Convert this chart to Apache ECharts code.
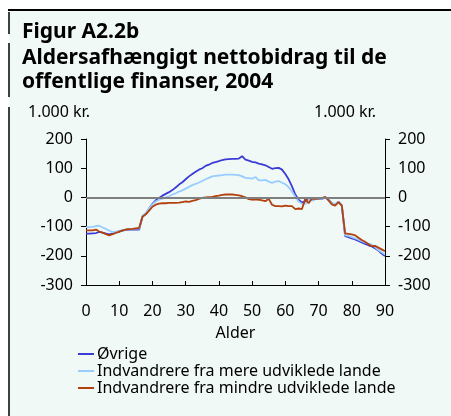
<!DOCTYPE html>
<html>
<head>
<meta charset="utf-8">
<script src="https://cdn.jsdelivr.net/npm/echarts@6/dist/echarts.min.js"></script>
<style>
  html, body { margin: 0; padding: 0; background: #fff; }
  #chart { width: 451px; height: 416px; }
</style>
</head>
<body>
<div id="chart"></div>
<script>
// alder 0..90
const ages = Array.from({ length: 91 }, (_, i) => i);

const ovrige = [
  -124, -124, -123, -122, -118, -121, -124, -127, -124, -120,
  -117, -114, -111, -110, -110, -110, -110, -66, -56, -38,
  -22, -10, -2, 6, 12, 18, 25, 34, 44, 52,
  62, 72, 80, 88, 95, 100, 108, 112, 118, 121,
  124, 128, 130, 131, 132, 132, 133, 141, 129, 126,
  122, 120, 116, 113, 110, 104, 98, 100, 101, 95,
  80, 62, 38, 10, -8, -17, -14, -3, -10, -5,
  -4, -5, 0, -8, -20, -24, -15, -28, -133, -136,
  -140, -144, -149, -154, -159, -164, -168, -174, -182, -192,
  -201
];

const mereUdviklede = [
  -102, -102, -101, -98, -97, -103, -108, -114, -119, -117,
  -115, -112, -110, -108, -108, -107, -107, -62, -54, -38,
  -24, -14, -8, -4, 0, 4, 10, 14, 20, 24,
  30, 36, 42, 46, 51, 56, 62, 67, 72, 74,
  75, 76, 78, 78, 78, 77, 76, 72, 67, 66,
  64, 70, 58, 58, 60, 54, 50, 54, 56, 50,
  45, 35, 20, 2, -14, -22, -22, -8, -10, -5,
  -5, -4, -1, -8, -20, -23, -15, -26, -130, -132,
  -136, -140, -145, -150, -154, -158, -162, -170, -180, -188,
  -196
];

const mindreUdviklede = [
  -113, -113, -113, -110, -117, -121, -126, -130, -126, -122,
  -117, -113, -110, -109, -108, -106, -104, -66, -58, -45,
  -32, -25, -21, -20, -20, -19, -19, -19, -18, -16,
  -14, -15, -12, -9, -5, -2, 0, 1, 2, 4,
  6, 9, 10, 10, 10, 9, 7, 4, 0, -6,
  -8, -7, -8, -10, -13, -5, -25, -30, -30, -31,
  -28, -30, -30, -40, -38, -40, -5, -20, -4, -5,
  -4, -2, 2, -10, -24, -28, -16, -28, -123, -125,
  -127, -130, -138, -146, -152, -160, -167, -166, -172, -178,
  -184
];

const pair = arr => arr.map((v, i) => [ages[i], v]);

const font = '"Noto Sans", sans-serif';
const chart = echarts.init(document.getElementById('chart'));

const yAxisBase = {
  type: 'value',
  min: -300,
  max: 200,
  interval: 100,
  axisLine: { show: true, lineStyle: { color: '#000', width: 1 } },
  axisTick: { show: true, length: 5, lineStyle: { color: '#000' } },
  axisLabel: { color: '#000', fontSize: 16, fontFamily: font, margin: 13 },
  splitLine: { show: false },
};

chart.setOption({
  animation: false,
  textStyle: { fontFamily: font },
  graphic: [
    { type: 'rect', z: -10, shape: { x: 9, y: 10, width: 442, height: 406 }, style: { fill: '#f1f9f6' } },
    { type: 'line', shape: { x1: 8, y1: 10, x2: 451, y2: 10 }, style: { stroke: '#000', lineWidth: 2 } },
    { type: 'line', shape: { x1: 9, y1: 12, x2: 9, y2: 34 }, style: { stroke: '#000', lineWidth: 1.5 } },
    { type: 'line', shape: { x1: 9, y1: 43, x2: 9, y2: 97 }, style: { stroke: '#000', lineWidth: 1.5 } },
    { type: 'line', shape: { x1: 9, y1: 107, x2: 9, y2: 416 }, style: { stroke: '#000', lineWidth: 1.5 } },
    { type: 'text', left: 28, top: 104, style: { text: '1.000 kr.', fontSize: 16, fontFamily: font, fill: '#000' } },
    { type: 'text', left: 314, top: 104, style: { text: '1.000 kr.', fontSize: 16, fontFamily: font, fill: '#000' } },
  ],
  title: [
    {
      text: 'Figur A2.2b',
      left: 17,
      top: 17,
      textStyle: { fontSize: 21, fontWeight: 'bold', fontFamily: font, color: '#000' },
    },
    {
      text: 'Aldersafhængigt nettobidrag til de\noffentlige finanser, 2004',
      left: 17,
      top: 41,
      textStyle: { fontSize: 21, fontWeight: 'bold', fontFamily: font, color: '#000', lineHeight: 24 },
    },
  ],
  legend: {
    orient: 'vertical',
    left: 73,
    top: 341,
    itemWidth: 16,
    itemHeight: 2,
    itemGap: 1,
    icon: 'rect',
    textStyle: { color: '#000', fontSize: 16, fontFamily: font, padding: [0, 0, 0, -2] },
    data: ['Øvrige', 'Indvandrere fra mere udviklede lande', 'Indvandrere fra mindre udviklede lande'],
  },
  grid: { left: 86, right: 66, top: 139, bottom: 131, containLabel: false },
  xAxis: {
    type: 'value',
    min: 0,
    max: 90,
    interval: 10,
    name: 'Alder',
    nameLocation: 'middle',
    nameGap: 40,
    nameTextStyle: { color: '#000', fontSize: 16, fontFamily: font },
    axisLine: { onZero: false, lineStyle: { color: '#000', width: 1 } },
    axisTick: { inside: true, length: 4, lineStyle: { color: '#000' } },
    axisLabel: { color: '#000', fontSize: 16, fontFamily: font, margin: 18 },
    splitLine: { show: false },
  },
  yAxis: [
    Object.assign({}, yAxisBase, { position: 'left' }),
    Object.assign({}, yAxisBase, { position: 'right' }),
  ],
  series: [
    {
      name: 'Øvrige',
      type: 'line',
      data: pair(ovrige),
      symbol: 'none',
      lineStyle: { color: '#3b3bd6', width: 1.8 },
      itemStyle: { color: '#3b3bd6' },
      markLine: {
        silent: true,
        symbol: 'none',
        label: { show: false },
        lineStyle: { color: '#7f7f7f', width: 2, type: 'solid' },
        data: [{ yAxis: 0 }],
      },
    },
    {
      name: 'Indvandrere fra mere udviklede lande',
      type: 'line',
      data: pair(mereUdviklede),
      symbol: 'none',
      lineStyle: { color: '#99ccff', width: 1.8 },
      itemStyle: { color: '#99ccff' },
    },
    {
      name: 'Indvandrere fra mindre udviklede lande',
      type: 'line',
      data: pair(mindreUdviklede),
      symbol: 'none',
      lineStyle: { color: '#b2410e', width: 1.8 },
      itemStyle: { color: '#b2410e' },
    },
  ],
});
</script>
</body>
</html>
